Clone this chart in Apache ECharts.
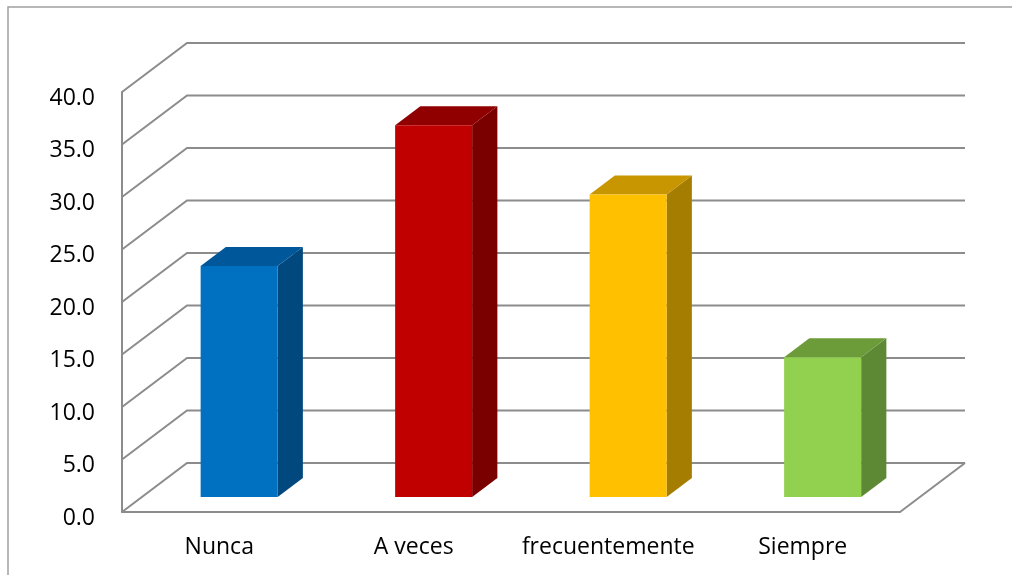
<!DOCTYPE html>
<html>
<head>
<meta charset="utf-8">
<script src="https://cdn.jsdelivr.net/npm/echarts@6/dist/echarts.min.js"></script>
<style>
html,body{margin:0;padding:0;background:#fff;}
#chart{width:1012px;height:575px;}
</style>
</head>
<body>
<div id="chart"></div>
<script>
const categories = ['Nunca', 'A veces', 'frecuentemente', 'Siempre'];
const values = [22.0, 35.4, 28.8, 13.3];
const yTicks = [0, 5, 10, 15, 20, 25, 30, 35, 40];
const frontColors = ['#0070C0', '#C00000', '#FFC000', '#92D050'];
const topColors = ['#00589A', '#900000', '#C89600', '#6C9B3A'];
const sideColors = ['#00487E', '#7A0000', '#A57D00', '#5E8934'];

const DX = 65, DY = -49;       // depth of the 3D box
const F1 = 0.306, F2 = 0.694;  // bar depth range
const BAR_W = 0.396;           // bar width as fraction of band
const GRID_COLOR = '#8c8c8c';
const FONT = '"Open Sans", sans-serif';

const chart = echarts.init(document.getElementById('chart'), null, {renderer: 'canvas'});

const option = {
  animation: false,
  backgroundColor: '#fff',
  graphic: [{
    type: 'rect',
    shape: {x: 8, y: 7, width: 2000, height: 2000},
    style: {fill: 'none', stroke: '#a0a0a0', lineWidth: 1.5},
    z: 0
  }],
  grid: {left: 122, right: 112, top: 92, bottom: 63, containLabel: false},
  xAxis: {
    type: 'category',
    data: categories,
    axisLine: {show: true, lineStyle: {color: GRID_COLOR, width: 2}},
    axisTick: {show: false},
    axisLabel: {color: '#000', fontFamily: FONT, fontSize: 23, margin: 24, interval: 0},
    splitLine: {show: false}
  },
  yAxis: {
    type: 'value',
    min: 0, max: 40, interval: 5,
    axisLine: {show: true, lineStyle: {color: GRID_COLOR, width: 2}},
    axisTick: {show: false},
    splitLine: {show: false},
    axisLabel: {
      color: '#000', fontFamily: FONT, fontSize: 23, margin: 27,
      formatter: v => '{a|' + v.toFixed(1) + '}',
      rich: {a: {color: '#000', fontFamily: FONT, fontSize: 23, padding: [12, 0, 0, 0]}}
    }
  },
  series: [
    {
      type: 'custom',
      clip: false,
      z: 1,
      data: yTicks.map(v => [0, v]),
      encode: {x: 0, y: 1},
      renderItem: function (params, api) {
        const v = api.value(1);
        const p = api.coord([0, v]);
        const bw = api.size([1, 0])[0];
        const L = p[0] - bw / 2;
        const R = L + bw * categories.length;
        const y = p[1];
        const children = [{
          type: 'polyline',
          shape: {points: [[L, y], [L + DX, y + DY], [R + DX, y + DY]]},
          style: {stroke: GRID_COLOR, lineWidth: 2, fill: 'none'}
        }];
        if (v === 0) {
          children.push({
            type: 'polyline',
            shape: {points: [[R, y], [R + DX, y + DY]]},
            style: {stroke: GRID_COLOR, lineWidth: 2, fill: 'none'}
          });
        }
        return {type: 'group', children: children};
      }
    },
    {
      type: 'custom',
      clip: false,
      z: 2,
      data: values.map((v, i) => [i, v]),
      encode: {x: 0, y: 1},
      renderItem: function (params, api) {
        const i = api.value(0);
        const v = api.value(1);
        const base = api.coord([i, 0]);
        const top = api.coord([i, v]);
        const bw = api.size([1, 0])[0];
        const w = bw * BAR_W;
        const x0 = base[0] - w / 2 + DX * F1;
        const x1 = x0 + w;
        const yb = base[1] + DY * F1;
        const yt = top[1] + DY * F1;
        const ddx = DX * (F2 - F1), ddy = DY * (F2 - F1);
        return {
          type: 'group',
          children: [
            {type: 'polygon', shape: {points: [[x1, yt], [x1 + ddx, yt + ddy], [x1 + ddx, yb + ddy], [x1, yb]]},
             style: {fill: sideColors[i]}},
            {type: 'polygon', shape: {points: [[x0, yt], [x0 + ddx, yt + ddy], [x1 + ddx, yt + ddy], [x1, yt]]},
             style: {fill: topColors[i]}},
            {type: 'polygon', shape: {points: [[x0, yt], [x1, yt], [x1, yb], [x0, yb]]},
             style: {fill: frontColors[i]}}
          ]
        };
      }
    }
  ]
};
chart.setOption(option);
</script>
</body>
</html>
